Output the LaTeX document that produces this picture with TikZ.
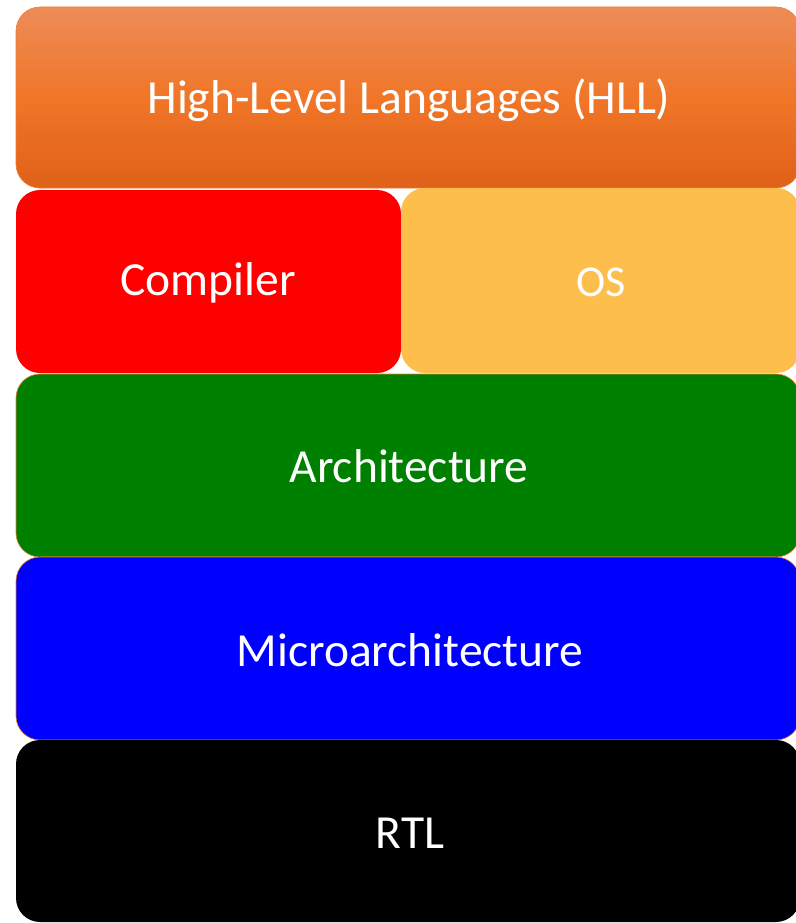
\documentclass[tikz,border=0pt]{standalone}
\usepackage{fontspec}
\setmainfont{Carlito}
\definecolor{hlltop}{RGB}{237,140,88}
\definecolor{hllmid}{RGB}{240,118,40}
\definecolor{hllbot}{RGB}{224,97,24}
\definecolor{osfill}{RGB}{254,190,75}
\definecolor{edgeor}{RGB}{237,125,49}
\definecolor{archgreen}{RGB}{0,128,0}
\begin{document}
\begin{tikzpicture}[x=1pt,y=-1pt,
  layer/.style={rounded corners=24pt},
  lbl/.style={text=white,font=\fontsize{47.5}{56}\selectfont,inner sep=0pt},
  lblsmall/.style={text=white,font=\fontsize{44}{52}\selectfont,inner sep=0pt}]
\useasboundingbox (0,0) rectangle (795,923);
\fill[white] (0,0) rectangle (795,923);
% HLL
\shade[layer,top color=hlltop,bottom color=hllbot,middle color=hllmid] (16,7) rectangle (800,188);
\draw[layer,edgeor,line width=0.6pt] (16,7) rectangle (800,188);
\node[lbl] (hll) at (409,100) {High-Level Languages (HLL)};
% Compiler / OS
\fill[layer,red] (16,190) rectangle (401,373);
\node[lbl] (comp) at (208,283) {Compiler};
\fill[layer,osfill] (401,188) rectangle (800,373);
\node[lblsmall] (os) at (601,282) {OS};
% Architecture
\fill[layer,archgreen] (16,374) rectangle (800,557);
\draw[layer,edgeor,line width=0.6pt] (16,374) rectangle (800,557);
\node[lbl] (arch) at (409,466) {Architecture};
% Microarchitecture
\fill[layer,blue] (16,557) rectangle (800,740);
\draw[layer,edgeor,line width=0.6pt] (16,557) rectangle (800,740);
\node[lbl] (micro) at (410,650) {Microarchitecture};
% RTL
\fill[layer,black] (16,740) rectangle (800,922);
\node[lbl] (rtl) at (410,833) {RTL};
\end{tikzpicture}
\end{document}
